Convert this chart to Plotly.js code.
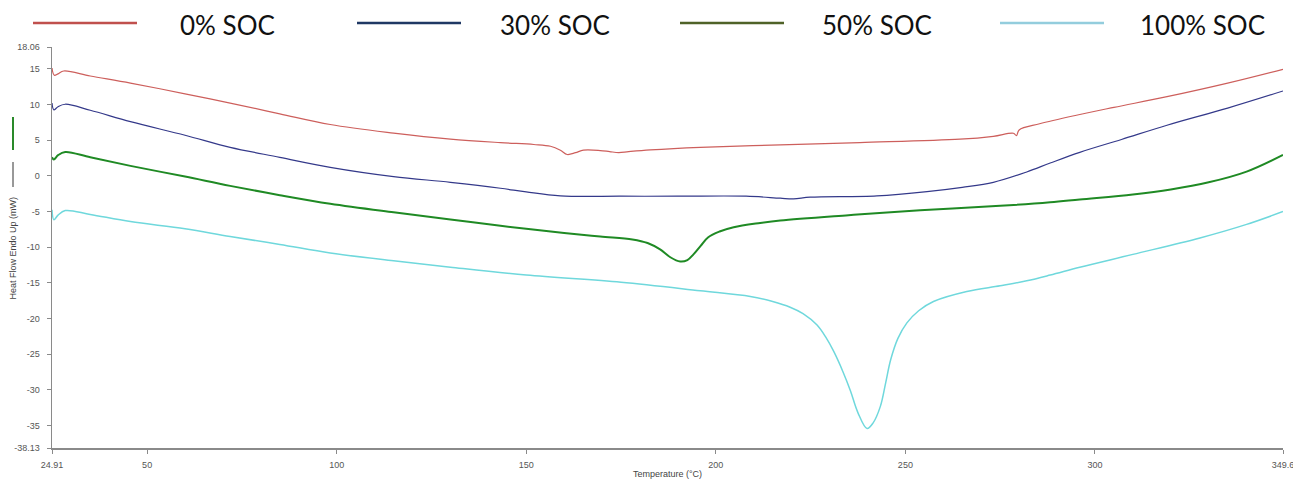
<!DOCTYPE html>
<html>
<head>
<meta charset="utf-8">
<script src="https://cdn.plot.ly/plotly-3.0.1.min.js"></script>
<style>
  html, body { margin: 0; padding: 0; background: #ffffff; }
  #chart { width: 1293px; height: 480px; }
</style>
</head>
<body>
<div id="chart"></div>
<script>
// DSC heat-flow curves at four states of charge
const seriesNames = ['0% SOC', '30% SOC', '50% SOC', '100% SOC'];

const tempSoc0 = [24.91, 25.5, 26.5, 28, 35, 45.6, 60, 71.9, 85, 98.3, 115, 130, 143.2, 152, 156.4, 159, 160.8, 163, 165.1, 169.5, 172, 174.4, 177, 182.7, 195.9, 217, 238, 264.4, 273.2, 278.5, 279.3, 280, 285.4, 295.1, 305, 319, 335, 349.6];
const flowSoc0 = [15.1, 14.1, 14.3, 14.7, 14.0, 13.0, 11.5, 10.2, 8.7, 7.2, 6.0, 5.15, 4.66, 4.4, 4.15, 3.6, 3.0, 3.25, 3.6, 3.55, 3.4, 3.27, 3.4, 3.64, 4.0, 4.34, 4.67, 5.14, 5.55, 5.98, 5.64, 6.44, 7.3, 8.5, 9.6, 11.1, 13.0, 14.94];

const tempSoc30 = [24.91, 25.4, 26.5, 28.4, 35, 45.6, 60, 71.9, 85, 98.3, 115, 130, 143.2, 150, 159, 175, 190, 208, 217, 220.5, 224.9, 242.5, 255.7, 265, 273.2, 282, 288.2, 296, 307, 319, 335, 349.6];
const flowSoc30 = [10.2, 9.24, 9.7, 10.04, 9.2, 7.6, 5.7, 4.0, 2.6, 1.2, -0.1, -0.9, -1.73, -2.25, -2.8, -2.85, -2.85, -2.85, -3.13, -3.22, -2.99, -2.8, -2.2, -1.6, -0.9, 0.55, 1.8, 3.3, 5.1, 7.1, 9.5, 11.9];

const tempSoc50 = [24.91, 25.4, 26.5, 28.4, 35, 45.6, 60, 71.9, 85, 98.3, 115, 130, 143.2, 160, 169.5, 178, 182, 185.3, 188, 190.6, 192.5, 194.1, 196, 198, 201, 204.7, 211.7, 217, 235, 253.9, 275, 288.2, 296, 310, 320, 330, 340, 349.6];
const flowSoc50 = [2.6, 2.3, 2.9, 3.35, 2.6, 1.4, -0.1, -1.4, -2.7, -3.9, -5.1, -6.1, -7.0, -8.0, -8.5, -8.9, -9.4, -10.3, -11.4, -12.0, -11.8, -11.0, -9.8, -8.6, -7.8, -7.2, -6.6, -6.25, -5.5, -4.8, -4.2, -3.7, -3.3, -2.6, -1.9, -0.9, 0.6, 2.94];

const tempSoc100 = [24.91, 25.4, 26.5, 28.4, 35, 45.6, 60, 71.9, 85, 98.3, 115, 130, 150, 175, 195.9, 209.1, 215, 219.6, 223, 226.7, 229, 231.1, 233.5, 235.5, 237.5, 239.9, 241.5, 243.4, 244.8, 246.1, 248, 250.4, 253.5, 257.4, 266.2, 275, 282, 288.2, 296, 310, 327.7, 340, 349.6];
const flowSoc100 = [-4.76, -6.16, -5.5, -4.86, -5.4, -6.4, -7.4, -8.5, -9.6, -10.8, -11.9, -12.8, -13.9, -14.9, -16.1, -16.9, -17.6, -18.4, -19.3, -20.9, -22.6, -24.6, -27.4, -30.1, -33.2, -35.4, -34.6, -32.3, -29.0, -25.8, -22.8, -20.6, -18.9, -17.6, -16.2, -15.4, -14.7, -13.9, -12.8, -11.0, -8.7, -6.8, -5.0];

const xTickValues = [24.91, 50, 100, 150, 200, 250, 300, 349.6];
const xTickLabels = ['24.91', '50', '100', '150', '200', '250', '300', '349.6'];
const yTickValues = [-38.13, -35, -30, -25, -20, -15, -10, -5, 0, 5, 10, 15, 18.06];
const yTickLabels = ['-38.13', '-35', '-30', '-25', '-20', '-15', '-10', '-5', '0', '5', '10', '15', '18.06'];

const xAxisTitle = 'Temperature (°C)';
const yAxisTitle = 'Heat Flow Endo Up (mW)';

// ---- styling ----
const curveColors = ['#cd5f5c', '#34398a', '#1f8a24', '#6fd8dc'];
const curveWidths = [1.2, 1.2, 2, 1.5];
const keyColors = ['#c0504d', '#1f3864', '#4f6228', '#93cddd'];
const keyLineStart = [33, 357, 680, 1000];   // px
const keyLineLength = 104;                   // px
const keyTextStart = [178, 498, 820, 1138];  // px

const W = 1293, H = 480;
const M = { l: 52, r: 10, t: 47, b: 32 };
const plotW = W - M.l - M.r, plotH = H - M.t - M.b;
const px = v => (v - M.l) / plotW;
const py = v => 1 - (v - M.t) / plotH;

const temps = [tempSoc0, tempSoc30, tempSoc50, tempSoc100];
const flows = [flowSoc0, flowSoc30, flowSoc50, flowSoc100];

const traces = seriesNames.map((name, i) => ({
  type: 'scatter',
  mode: 'lines',
  name: name,
  x: temps[i],
  y: flows[i],
  line: { color: curveColors[i], width: curveWidths[i], shape: 'spline', smoothing: 1 },
  showlegend: false,
  hoverinfo: 'x+y+name'
}));

const shapes = [];
const annotations = [];

// key across the top
seriesNames.forEach((name, i) => {
  shapes.push({
    type: 'line', xref: 'paper', yref: 'paper',
    x0: px(keyLineStart[i]), x1: px(keyLineStart[i] + keyLineLength),
    y0: py(23), y1: py(23),
    line: { color: keyColors[i], width: 2.5 }
  });
  annotations.push({
    xref: 'paper', yref: 'paper',
    x: px(keyTextStart[i]), y: py(24.5),
    xanchor: 'left', yanchor: 'middle',
    text: name, showarrow: false,
    font: { family: 'Lato, "Noto Sans", sans-serif', size: 26, color: '#111111' }
  });
});

// signal markers beside the y-axis title
shapes.push({
  type: 'line', xref: 'paper', yref: 'paper',
  x0: px(13), x1: px(13), y0: py(117), y1: py(150),
  line: { color: '#2a8a2a', width: 2 }
});
shapes.push({
  type: 'line', xref: 'paper', yref: 'paper',
  x0: px(13), x1: px(13), y0: py(162), y1: py(187),
  line: { color: '#333333', width: 1 }
});

annotations.push({
  xref: 'paper', yref: 'paper',
  x: px(12.5), y: py(248), xanchor: 'center', yanchor: 'middle',
  text: yAxisTitle, textangle: -90, showarrow: false,
  font: { family: '"Liberation Sans", Arial, sans-serif', size: 9, color: '#444444' }
});
annotations.push({
  xref: 'paper', yref: 'paper',
  x: 0.5, y: py(474), xanchor: 'center', yanchor: 'middle',
  text: xAxisTitle, showarrow: false,
  font: { family: '"Liberation Sans", Arial, sans-serif', size: 9, color: '#444444' }
});

const tickFont = { family: '"Liberation Sans", Arial, sans-serif', size: 9, color: '#555555' };

const layout = {
  width: W, height: H,
  margin: M,
  paper_bgcolor: '#ffffff',
  plot_bgcolor: '#ffffff',
  showlegend: false,
  xaxis: {
    range: [24.91, 349.6],
    tickmode: 'array', tickvals: xTickValues, ticktext: xTickLabels,
    showgrid: false, zeroline: false,
    showline: true, linecolor: '#8a8a8a', linewidth: 1.5,
    ticks: 'outside', ticklen: 4, tickcolor: '#8a8a8a', tickwidth: 1,
    tickfont: tickFont, ticklabelstandoff: 4, ticklabeloverflow: 'allow'
  },
  yaxis: {
    range: [-38.13, 18.06],
    tickmode: 'array', tickvals: yTickValues, ticktext: yTickLabels,
    showgrid: false, zeroline: false,
    showline: true, linecolor: '#8a8a8a', linewidth: 1.5,
    ticks: 'outside', ticklen: 4, tickcolor: '#8a8a8a', tickwidth: 1,
    tickfont: tickFont, ticklabelstandoff: 5
  },
  shapes: shapes,
  annotations: annotations
};

Plotly.newPlot('chart', traces, layout, { staticPlot: true, displayModeBar: false });
</script>
</body>
</html>
